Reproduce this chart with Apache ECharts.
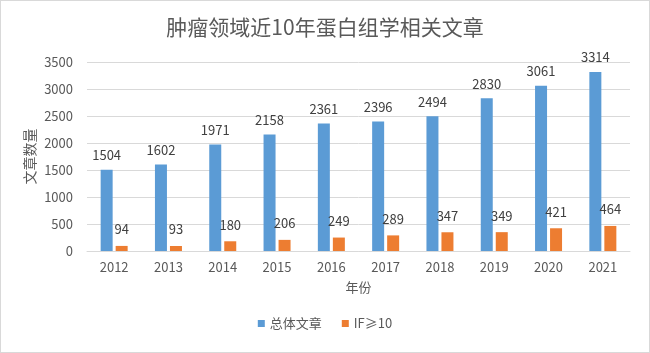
<!DOCTYPE html>
<html><head><meta charset="utf-8">
<script src="https://cdn.jsdelivr.net/npm/echarts@6/dist/echarts.min.js"></script>
<style>html,body{margin:0;padding:0;background:#fff}#c{width:648px;height:351px;border:1px solid #d9d9d9;}</style>
</head><body><div id="c"></div>
<script>
const years = ['2012','2013','2014','2015','2016','2017','2018','2019','2020','2021'];
const total = [1504,1602,1971,2158,2361,2396,2494,2830,3061,3314];
const highIF = [94,93,180,206,249,289,347,349,421,464];
const yTicks = [0,500,1000,1500,2000,2500,3000,3500];
const font = '"Noto Sans CJK SC", "Noto Sans", sans-serif';
const chart = echarts.init(document.getElementById('c'));
chart.setOption({
  animation:false,
  textStyle:{fontFamily:font},
  title:{text:'肿瘤领域近10年蛋白组学相关文章',left:'center',top:11,textStyle:{fontSize:21,fontWeight:'normal',color:'#595959',fontFamily:font}},
  legend:{bottom:17,left:'center',itemWidth:7,itemHeight:7,itemGap:20,icon:'rect',textStyle:{fontSize:13,color:'#595959',fontFamily:font},data:['总体文章','IF≥10']},
  grid:{left:86,right:19,top:61,bottom:101},
  xAxis:{type:'category',data:years,name:'年份',nameLocation:'middle',nameGap:30,nameTextStyle:{fontSize:13,color:'#595959'},
    axisLine:{lineStyle:{color:'#d9d9d9'}},axisTick:{show:false},axisLabel:{fontSize:13,color:'#595959',margin:10}},
  yAxis:{type:'value',min:yTicks[0],max:yTicks[yTicks.length-1],interval:500,name:'文章数量',nameLocation:'middle',nameGap:50,nameRotate:90,
    nameMoveOverlap:false,
    nameTextStyle:{fontSize:14,color:'#595959'},axisLine:{show:false},axisTick:{show:false},
    axisLabel:{fontSize:13,color:'#595959',margin:14,formatter:v=>String(v)},splitLine:{lineStyle:{color:'#d9d9d9'}}},
  series:[
    {name:'总体文章',type:'bar',data:total,barWidth:12,barGap:'25%',itemStyle:{color:'#5B9BD5'},
      label:{show:true,position:'top',distance:8,fontSize:13,color:'#404040'}},
    {name:'IF≥10',type:'bar',data:highIF,barWidth:12,itemStyle:{color:'#ED7D31'},
      label:{show:true,position:'top',distance:10,fontSize:13,color:'#404040'}}
  ]
});
</script></body></html>
